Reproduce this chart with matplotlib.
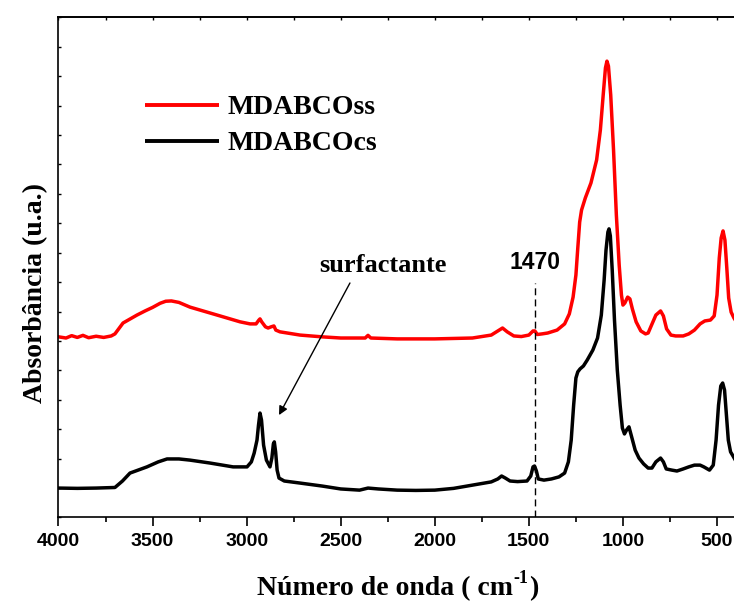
import matplotlib
matplotlib.use("Agg")
import matplotlib.pyplot as plt
from matplotlib.ticker import MultipleLocator

# FTIR spectra (wavenumber in cm-1, absorbance in arbitrary units, offset for clarity)
wn_ss = [4000, 3960, 3930, 3900, 3870, 3840, 3800, 3760, 3720, 3700, 3657, 3583, 3540, 3500,
         3460, 3430, 3400, 3360, 3301, 3157, 3035, 2982, 2950, 2935, 2929, 2920, 2900, 2886, 2870,
         2855, 2845, 2823, 2716, 2600, 2500, 2370, 2355, 2340, 2200, 2000, 1800, 1700,
         1665, 1640, 1615, 1580, 1540, 1500, 1478, 1468, 1455, 1430, 1400, 1350, 1310,
         1285, 1265, 1250, 1240, 1230, 1220, 1200, 1170, 1140, 1120, 1105, 1093, 1085,
         1077, 1065, 1050, 1035, 1020, 1008, 1000, 990, 975, 963, 950, 930, 905, 880,
         866, 850, 825, 800, 785, 768, 745, 720, 680, 650, 620, 590, 565, 535, 515, 500,
         488, 478, 468, 458, 448, 438, 425, 410, 400]
abs_ss = [6.14, 6.10, 6.18, 6.12, 6.19, 6.11, 6.16, 6.12, 6.17, 6.24, 6.61, 6.88, 7.02, 7.14,
          7.28, 7.35, 7.36, 7.31, 7.15, 6.88, 6.65, 6.58, 6.58, 6.71, 6.75, 6.65, 6.48, 6.44, 6.48,
          6.51, 6.37, 6.31, 6.20, 6.14, 6.10, 6.10, 6.19, 6.10, 6.07, 6.07, 6.10, 6.20,
          6.34, 6.44, 6.31, 6.17, 6.15, 6.20, 6.34, 6.34, 6.22, 6.24, 6.27, 6.37, 6.58,
          6.92, 7.49, 8.24, 9.16, 10.04, 10.45, 10.86, 11.37, 12.15, 13.17, 14.36, 15.28, 15.51,
          15.34, 14.36, 12.49, 10.28, 8.58, 7.56, 7.22, 7.29, 7.49, 7.43, 7.09, 6.65, 6.34, 6.24,
          6.27, 6.51, 6.88, 7.02, 6.85, 6.41, 6.20, 6.17, 6.17, 6.24, 6.37, 6.58, 6.68, 6.71, 6.85, 7.56,
          8.82, 9.50, 9.74, 9.43, 8.48, 7.46, 6.98, 6.78, 6.68]

wn_cs = [4000, 3900, 3800, 3700, 3660, 3620, 3530, 3470, 3423, 3360, 3301, 3194, 3072,
         2998, 2975, 2960, 2945, 2937, 2929, 2921, 2910, 2895, 2876, 2866, 2858, 2853,
         2846, 2838, 2828, 2800, 2716, 2600, 2500, 2400, 2355, 2300, 2200, 2100, 2000,
         1900, 1800, 1700, 1665, 1645, 1625, 1600, 1560, 1510, 1490, 1478, 1470, 1460,
         1450, 1420, 1380, 1340, 1310, 1290, 1275, 1262, 1250, 1240, 1228, 1210, 1190,
         1160, 1135, 1115, 1100, 1090, 1080, 1074, 1067, 1057, 1045, 1030, 1015, 1003,
         992, 980, 968, 955, 935, 915, 890, 866, 846, 825, 800, 785, 770, 740, 713, 680,
         650, 620, 590, 570, 540, 520, 505, 492, 480, 470, 460, 450, 440, 428, 415, 400]
abs_cs = [1.00, 0.99, 1.00, 1.02, 1.24, 1.51, 1.72, 1.89, 1.99, 1.99, 1.95, 1.85, 1.72,
          1.72, 1.89, 2.19, 2.63, 3.14, 3.55, 3.31, 2.46, 1.95, 1.72, 2.02, 2.50, 2.57,
          2.23, 1.61, 1.34, 1.24, 1.17, 1.07, 0.97, 0.93, 1.00, 0.97, 0.93, 0.92, 0.93,
          0.99, 1.10, 1.21, 1.31, 1.41, 1.34, 1.24, 1.22, 1.24, 1.41, 1.72, 1.75, 1.58,
          1.31, 1.27, 1.31, 1.38, 1.51, 1.89, 2.63, 3.82, 4.74, 4.95, 5.05, 5.15, 5.35,
          5.69, 6.10, 6.88, 8.07, 9.09, 9.70, 9.81, 9.57, 8.41, 6.71, 5.01, 3.82, 3.04,
          2.84, 2.98, 3.08, 2.77, 2.29, 2.02, 1.82, 1.68, 1.68, 1.89, 2.02, 1.89, 1.65, 1.61, 1.58, 1.65,
          1.72, 1.78, 1.78, 1.72, 1.61, 1.78, 2.63, 3.82, 4.47, 4.57, 4.33, 3.48, 2.63, 2.23, 2.09, 1.92]

series_labels = ["MDABCOss", "MDABCOcs"]
series_colors = ["#ff0000", "#000000"]
x_ticks = [4000, 3500, 3000, 2500, 2000, 1500, 1000, 500]
marked_band = 1470

serif = "Liberation Serif"
fig = plt.figure(figsize=(7.34, 6.03), dpi=100)
ax = fig.add_axes([0.0797, 0.1418, 0.9228, 0.8295])

ax.plot(wn_ss, abs_ss, color=series_colors[0], lw=2.5, solid_joinstyle="round")
ax.plot(wn_cs, abs_cs, color=series_colors[1], lw=2.5, solid_joinstyle="round")

ax.set_xlim(4000, 400)
ax.set_ylim(0, 17)

# axis styling
for side in ["left", "bottom", "top", "right"]:
    ax.spines[side].set_linewidth(1.2)
ax.set_xticks(x_ticks)
ax.set_xticklabels([str(t) for t in x_ticks], fontfamily="Liberation Sans",
                   fontweight="bold", fontsize=14)
ax.xaxis.set_minor_locator(MultipleLocator(250))
ax.yaxis.set_major_locator(MultipleLocator(1))
ax.set_yticklabels([])
ax.tick_params(axis="x", which="major", direction="out", length=6.5, width=1.2,
               pad=5, top=False)
ax.tick_params(axis="x", which="minor", direction="out", length=3.5, width=1.2, top=False)
ax.tick_params(axis="y", which="both", direction="in", length=2.5, width=1.0,
               left=True, right=False, labelleft=False)

# inward ticks along the top edge
top = ax.secondary_xaxis("top")
top.set_xticks([4000 - 250 * i for i in range(15)])
top.set_xticklabels([])
top.tick_params(direction="in", length=2.5, width=1.0)
top.spines["top"].set_linewidth(1.2)

# legend drawn as short line samples with labels
leg_y = [0.825, 0.753]
for lab, col, yy in zip(series_labels, series_colors, leg_y):
    ax.plot([0.128, 0.237], [yy, yy], transform=ax.transAxes, color=col, lw=2.8,
            solid_capstyle="butt")
    ax.text(0.249, yy - 0.019, lab, transform=ax.transAxes, fontfamily=serif,
            fontweight="bold", fontsize=20, va="baseline", ha="left")

# annotations
ax.plot([marked_band, marked_band], [0, 7.97], color="black", lw=1.0, ls=(0, (5, 3)))
ax.text(marked_band, 8.45, str(marked_band), fontfamily="Liberation Sans",
        fontweight="bold", fontsize=16.5, ha="center", va="baseline")
ax.text(2615, 8.34, "surfactante", fontfamily=serif, fontweight="bold",
        fontsize=19, ha="left", va="baseline")
ax.annotate("", xy=(2828, 3.48), xytext=(2451, 7.97),
            arrowprops=dict(arrowstyle="-|>", color="black", lw=1.0,
                            mutation_scale=13, shrinkA=0, shrinkB=0))

# x-axis title with a small raised "-1"
xl_main = fig.text(0, 1 - 595 / 603, "Número de onda ( cm", fontfamily=serif,
                   fontweight="bold", fontsize=20, ha="left", va="baseline")
xl_sup = fig.text(0, 1 - 583 / 603, "-1", fontfamily=serif, fontweight="bold",
                  fontsize=13, ha="left", va="baseline")
xl_end = fig.text(0, 1 - 595 / 603, ")", fontfamily=serif, fontweight="bold",
                  fontsize=20, ha="left", va="baseline")
fig.canvas.draw()
rend = fig.canvas.get_renderer()
w_main = xl_main.get_window_extent(rend).width
w_sup = xl_sup.get_window_extent(rend).width
w_end = xl_end.get_window_extent(rend).width
total = w_main + w_sup + w_end
x0 = 397 - total / 2
fig_w = fig.bbox.width
xl_main.set_x(x0 / fig_w)
xl_sup.set_x((x0 + w_main + 1) / fig_w)
xl_end.set_x((x0 + w_main + w_sup + 1) / fig_w)

fig.text(36 / 734, 1 - 293 / 603, "Absorbância (u.a.)", fontfamily=serif,
         fontweight="bold", fontsize=20, rotation=90, ha="center", va="center")

fig.savefig("out.png", dpi=100)
